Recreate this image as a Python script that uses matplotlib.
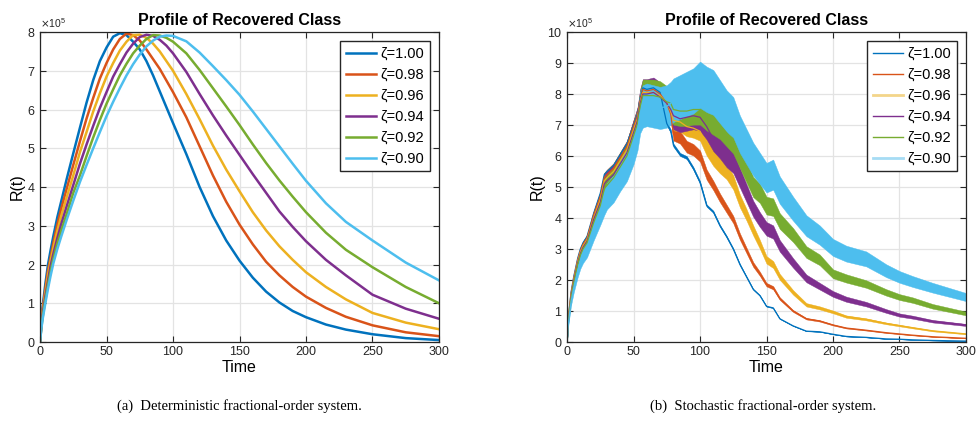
import numpy as np
import matplotlib
matplotlib.use("Agg")
import matplotlib.pyplot as plt
from matplotlib.lines import Line2D

plt.rcParams['font.family'] = ['Liberation Sans', 'DejaVu Sans']

# ---- data (R in units of 1e5) ----
orders = ['1.00', '0.98', '0.96', '0.94', '0.92', '0.90']
colors = ['#0072BD', '#D95319', '#EDB120', '#7E2F8E', '#77AC30', '#4DBEEE']

# deterministic system
t_det = [0, 1, 2, 4, 6, 8, 10, 13, 16, 20, 25, 30, 35, 40, 45, 50, 55, 60, 65, 70,
         75, 80, 85, 90, 95, 100, 110, 120, 130, 140, 150, 160, 170, 180, 190, 200,
         215, 230, 250, 275, 300]
det_100 = [0, 0.55, 0.93, 1.5, 2.0, 2.38, 2.73, 3.22, 3.64, 4.2, 4.87, 5.53, 6.18, 6.76, 7.25,
           7.6, 7.88, 7.97, 7.92, 7.75, 7.55, 7.25, 6.88, 6.47, 6.06, 5.65, 4.85, 4.0, 3.25,
           2.62, 2.1, 1.66, 1.3, 1.02, 0.8, 0.64, 0.45, 0.32, 0.2, 0.1, 0.05]
det_098 = [0, 0.5, 0.85, 1.38, 1.85, 2.2, 2.55, 3.03, 3.45, 3.95, 4.57, 5.18, 5.77, 6.3, 6.8,
           7.2, 7.55, 7.82, 7.96, 7.92, 7.78, 7.55, 7.3, 7.05, 6.75, 6.45, 5.8, 5.05, 4.3,
           3.62, 3.03, 2.52, 2.07, 1.72, 1.42, 1.17, 0.88, 0.65, 0.43, 0.25, 0.15]
det_096 = [0, 0.45, 0.78, 1.27, 1.72, 2.1, 2.42, 2.87, 3.26, 3.73, 4.3, 4.9, 5.42, 5.95, 6.42,
           6.85, 7.2, 7.52, 7.75, 7.92, 7.93, 7.85, 7.7, 7.5, 7.25, 7.0, 6.4, 5.75, 5.07,
           4.45, 3.89, 3.35, 2.88, 2.47, 2.12, 1.8, 1.42, 1.1, 0.75, 0.5, 0.33]
det_094 = [0, 0.42, 0.72, 1.18, 1.58, 1.97, 2.27, 2.68, 3.05, 3.5, 4.05, 4.6, 5.1, 5.58, 6.04,
           6.45, 6.85, 7.17, 7.47, 7.7, 7.87, 7.93, 7.9, 7.8, 7.65, 7.45, 6.97, 6.4, 5.85,
           5.33, 4.83, 4.33, 3.85, 3.37, 2.97, 2.6, 2.12, 1.72, 1.22, 0.86, 0.6]
det_092 = [0, 0.38, 0.65, 1.08, 1.48, 1.83, 2.14, 2.54, 2.88, 3.3, 3.85, 4.3, 4.8, 5.28, 5.73,
           6.15, 6.52, 6.88, 7.18, 7.45, 7.65, 7.82, 7.92, 7.91, 7.85, 7.75, 7.45, 7.02, 6.55,
           6.08, 5.6, 5.1, 4.62, 4.17, 3.75, 3.35, 2.82, 2.38, 1.93, 1.42, 1.0]
det_090 = [0, 0.35, 0.6, 1.0, 1.38, 1.72, 2.03, 2.4, 2.73, 3.15, 3.65, 4.13, 4.57, 5.0, 5.42,
           5.83, 6.2, 6.55, 6.88, 7.17, 7.42, 7.63, 7.78, 7.88, 7.91, 7.9, 7.76, 7.47, 7.12,
           6.76, 6.38, 5.95, 5.5, 5.05, 4.6, 4.16, 3.58, 3.1, 2.62, 2.05, 1.59]

# stochastic system (centre of each noisy path)
t_sto = [0, 1, 3, 5, 8, 10, 12, 15, 20, 25, 28, 30, 35, 40, 45, 50, 53, 55, 57, 60, 65, 70,
         75, 78, 80, 85, 90, 95, 100, 105, 110, 115, 120, 125, 130, 135, 140, 145, 150, 155,
         160, 170, 180, 190, 200, 210, 225, 240, 250, 260, 275, 300]
sto_100 = [0, 0.8, 1.6, 2.1, 2.7, 3.0, 3.2, 3.4, 4.15, 4.8, 5.4, 5.5, 5.7, 6.05, 6.4, 7.0, 7.35,
           7.85, 8.2, 8.15, 8.2, 8.05, 7.05, 6.8, 6.35, 6.05, 5.95, 5.6, 5.15, 4.4, 4.2, 3.75, 3.4,
           3.0, 2.5, 2.1, 1.7, 1.5, 1.15, 1.1, 0.75, 0.52, 0.35, 0.33, 0.25, 0.18, 0.15, 0.1,
           0.09, 0.07, 0.05, 0.03]
sto_098 = [0, 0.8, 1.55, 2.05, 2.65, 2.95, 3.15, 3.35, 4.1, 4.7, 5.3, 5.4, 5.6, 5.95, 6.3, 6.95,
           7.3, 7.8, 8.15, 8.1, 8.15, 8.0, 7.7, 7.35, 6.7, 6.6, 6.3, 6.2, 6.0, 5.4, 5.05, 4.65,
           4.3, 3.95, 3.4, 2.95, 2.5, 2.2, 1.85, 1.75, 1.4, 1.0, 0.75, 0.68, 0.55, 0.45, 0.38,
           0.3, 0.26, 0.22, 0.17, 0.12]
sto_096 = [0, 0.75, 1.5, 2.0, 2.6, 2.9, 3.1, 3.3, 4.0, 4.6, 5.2, 5.3, 5.5, 5.85, 6.2, 6.85, 7.2,
           7.75, 8.05, 8.05, 8.05, 7.95, 7.7, 7.45, 7.15, 7.1, 6.95, 6.9, 6.8, 6.3, 5.95, 5.7,
           5.5, 5.15, 4.55, 4.1, 3.6, 3.15, 2.65, 2.5, 2.1, 1.6, 1.2, 1.1, 0.97, 0.82, 0.73,
           0.6, 0.53, 0.46, 0.36, 0.26]
sto_094 = [0, 0.7, 1.45, 1.95, 2.55, 2.85, 3.05, 3.25, 3.95, 4.5, 5.1, 5.2, 5.4, 5.75, 6.1, 6.75,
           7.15, 7.7, 8.0, 8.0, 8.05, 7.9, 7.7, 7.5, 7.3, 7.2, 7.25, 7.3, 7.25, 6.95, 6.55, 6.3,
           6.0, 5.8, 5.3, 4.8, 4.3, 3.95, 3.65, 3.55, 3.1, 2.55, 2.05, 1.8, 1.55, 1.38, 1.22,
           1.0, 0.87, 0.8, 0.67, 0.55]
sto_092 = [0, 0.7, 1.4, 1.9, 2.5, 2.8, 3.0, 3.2, 3.85, 4.4, 4.95, 5.05, 5.3, 5.65, 6.0, 6.65,
           7.05, 7.6, 7.95, 7.95, 7.95, 7.9, 7.75, 7.7, 7.5, 7.45, 7.45, 7.5, 7.5, 7.3, 7.15,
           7.0, 6.75, 6.5, 6.0, 5.5, 5.0, 4.8, 4.4, 4.35, 3.9, 3.45, 2.9, 2.65, 2.2, 2.05,
           1.87, 1.6, 1.45, 1.35, 1.15, 0.92]
sto_090 = [0, 0.6, 1.3, 1.75, 2.3, 2.6, 2.8, 3.0, 3.6, 4.15, 4.5, 4.7, 4.95, 5.35, 5.7, 6.3,
           6.8, 7.4, 7.6, 7.65, 7.6, 7.55, 7.6, 7.7, 7.8, 7.9, 8.0, 8.1, 8.3, 8.15, 8.05,
           7.75, 7.45, 7.25, 6.7, 6.3, 5.9, 5.6, 5.3, 5.4, 4.9, 4.3, 3.75, 3.45, 3.05, 2.85,
           2.68, 2.3, 2.1, 1.95, 1.75, 1.45]
# relative half width of the noise band of each stochastic path
noise_width = [0.008, 0.03, 0.045, 0.06, 0.065, 0.09]

det_series = [det_100, det_098, det_096, det_094, det_092, det_090]
sto_series = [sto_100, sto_098, sto_096, sto_094, sto_092, sto_090]

fig = plt.figure(figsize=(9.79, 4.23), dpi=100)
ax1 = fig.add_axes([0.0409, 0.1915, 0.4075, 0.7328])
ax2 = fig.add_axes([0.5792, 0.1915, 0.4075, 0.7328])


def style_axes(ax, ymax):
    ax.set_xlim(0, 300)
    ax.set_ylim(0, ymax * 1e5)
    ax.set_xticks(np.arange(0, 301, 50))
    ax.set_yticks(np.arange(0, ymax + 1, 1) * 1e5)
    ax.ticklabel_format(axis='y', style='sci', scilimits=(5, 5), useMathText=True)
    ax.yaxis.get_offset_text().set_fontsize(7.5)
    ax.yaxis.get_offset_text().set_color('#404040')
    ax.grid(True, color='#e3e3e3', linewidth=0.9)
    ax.set_axisbelow(True)
    ax.tick_params(direction='in', top=True, right=True, length=4, width=0.8,
                   labelsize=9, colors='#262626', pad=3)
    for s in ax.spines.values():
        s.set_color('#262626')
        s.set_linewidth(0.9)
    ax.set_title('Profile of Recovered Class', fontsize=11.5, fontweight='bold', pad=5)
    ax.set_xlabel('Time', fontsize=11.5, labelpad=1)
    ax.set_ylabel('R(t)', fontsize=11.5, labelpad=2)


legend_kw = dict(loc='upper right', fontsize=10.5, frameon=True, fancybox=False,
                 edgecolor='#262626', framealpha=1, handlelength=2.1, handletextpad=0.3,
                 borderpad=0.4, labelspacing=0.48, borderaxespad=0.6)

for vals, c, o in zip(det_series, colors, orders):
    ax1.plot(t_det, np.array(vals) * 1e5, color=c, linewidth=1.8, label='ζ=' + o)
style_axes(ax1, 8)
ax1.legend(**legend_kw)

for vals, c, w in zip(sto_series, colors, noise_width):
    v = np.array(vals) * 1e5
    ax2.fill_between(t_sto, v * (1 - w), v * (1 + w), color=c, linewidth=0.3, edgecolor=c)
    ax2.plot(t_sto, v, color=c, linewidth=0.9)
style_axes(ax2, 10)
legend_colors = ['#0072BD', '#D95319', '#F3D58A', '#7E2F8E', '#77AC30', '#A6DCF4']
handles = [Line2D([0], [0], color=c, linewidth=1.0 if c in colors else 2.0)
           for c in legend_colors]
ax2.legend(handles, ['ζ=' + o for o in orders], **legend_kw)

fig.text(0.245, 0.03, '(a)  Deterministic fractional-order system.', ha='center',
         fontsize=10.5, family='Liberation Serif')
fig.text(0.78, 0.03, '(b)  Stochastic fractional-order system.', ha='center',
         fontsize=10.5, family='Liberation Serif')

fig.savefig('out.png', dpi=100)
